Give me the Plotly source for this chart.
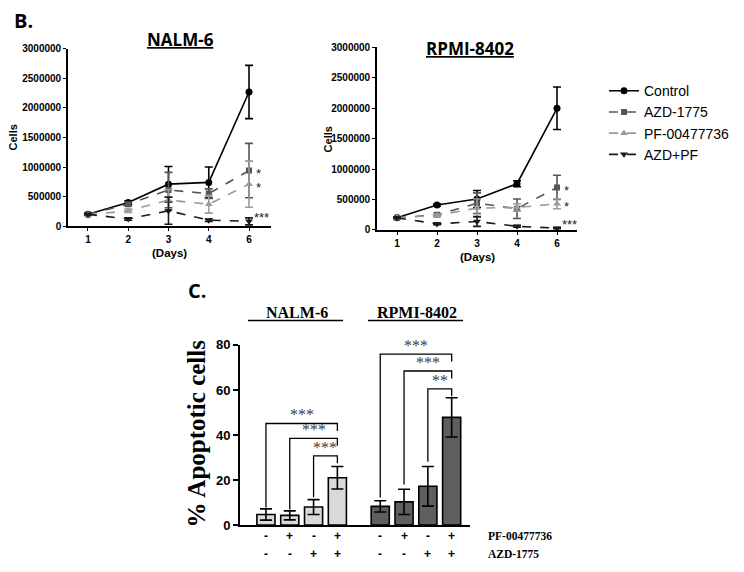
import plotly.graph_objects as go

# ---------------- data ----------------
days = ["1", "2", "3", "4", "6"]
series_names = ["Control", "AZD-1775", "PF-00477736", "AZD+PF"]

nalm_control = [200000, 400000, 710000, 740000, 2270000]
nalm_control_err = [15000, 30000, 300000, 260000, 450000]
nalm_azd = [200000, 370000, 610000, 550000, 940000]
nalm_azd_err = [10000, 30000, 300000, 80000, 460000]
nalm_pf = [190000, 260000, 440000, 370000, 710000]
nalm_pf_err = [10000, 30000, 180000, 150000, 390000]
nalm_combo = [200000, 120000, 260000, 100000, 80000]
nalm_combo_err = [10000, 20000, 230000, 20000, 60000]

rpmi_control = [200000, 410000, 510000, 760000, 2000000]
rpmi_control_err = [10000, 15000, 140000, 50000, 350000]
rpmi_azd = [200000, 250000, 440000, 350000, 700000]
rpmi_azd_err = [10000, 20000, 170000, 160000, 200000]
rpmi_pf = [200000, 240000, 360000, 370000, 430000]
rpmi_pf_err = [10000, 20000, 150000, 60000, 80000]
rpmi_combo = [200000, 100000, 140000, 60000, 30000]
rpmi_combo_err = [10000, 15000, 80000, 15000, 10000]

# significance marks at day 6 (NALM, RPMI)
nalm_sig = ["", "*", "*", "***"]
rpmi_sig = ["", "*", "*", "***"]

# apoptosis bars
apo_nalm = [4.7, 4.3, 8.0, 21.0]
apo_nalm_err = [2.5, 2.0, 3.3, 5.0]
apo_rpmi = [8.3, 10.3, 17.2, 47.8]
apo_rpmi_err = [2.5, 5.6, 8.8, 8.7]
pf_row = ["-", "+", "-", "+"]
azd_row = ["-", "-", "+", "+"]
row_labels = ["PF-00477736", "AZD-1775"]
cell_lines = ["NALM-6", "RPMI-8402"]

# brackets: (left bar index, right bar index, bracket height, left leg bottom, label)
nalm_brackets = [(0, 3, 45.1, 7.8, "***"), (1, 3, 38.5, 6.9, "***"), (2, 3, 30.7, 12.3, "***")]
rpmi_brackets = [(0, 3, 75.9, 12.2, "***"), (1, 3, 68.4, 18.0, "***"), (2, 3, 60.5, 28.1, "**")]

# ---------------- style ----------------
W, H = 744, 572
styles = [
    dict(color="#000000", dash="solid", symbol="circle", msize=7),
    dict(color="#555555", dash="dash", symbol="square", msize=6),
    dict(color="#9a9a9a", dash="dash", symbol="triangle-up", msize=7),
    dict(color="#1a1a1a", dash="dash", symbol="triangle-down", msize=7),
]

def px(x):
    return x / W

def py(y):
    return 1 - y / H

def note(x, y, text, font, xref="paper", yref="paper", **kw):
    d = dict(x=x, y=y, xref=xref, yref=yref, text=text, showarrow=False,
             xanchor="center", yanchor="middle", font=font)
    d.update(kw)
    return d

fig = go.Figure()

panels = [
    ("x", "y", [nalm_control, nalm_azd, nalm_pf, nalm_combo],
     [nalm_control_err, nalm_azd_err, nalm_pf_err, nalm_combo_err], True),
    ("x2", "y2", [rpmi_control, rpmi_azd, rpmi_pf, rpmi_combo],
     [rpmi_control_err, rpmi_azd_err, rpmi_pf_err, rpmi_combo_err], False),
]
for xa, ya, vals, errs, show in panels:
    for name, v, e, st in zip(series_names, vals, errs, styles):
        fig.add_trace(go.Scatter(
            x=days, y=v, name=name, xaxis=xa, yaxis=ya,
            mode="lines+markers", showlegend=show,
            line=dict(color=st["color"], dash=st["dash"], width=1.6),
            marker=dict(symbol=st["symbol"], size=st["msize"], color=st["color"]),
            error_y=dict(type="data", array=e, visible=True, color=st["color"],
                         thickness=1.6, width=4),
        ))

# bar chart
nalm_x = [i for i in range(len(apo_nalm))]
rpmi_x = [4.8 + i for i in range(len(apo_rpmi))]
err_style = dict(type="data", visible=True, color="#000000", thickness=1.6, width=6)
fig.add_trace(go.Bar(x=nalm_x, y=apo_nalm, xaxis="x3", yaxis="y3", width=0.76,
                     marker=dict(color="#d9d9d9", line=dict(color="#000000", width=1.6)),
                     error_y=dict(array=apo_nalm_err, **err_style), showlegend=False))
fig.add_trace(go.Bar(x=rpmi_x, y=apo_rpmi, xaxis="x3", yaxis="y3", width=0.76,
                     marker=dict(color="#5f5f5f", line=dict(color="#000000", width=1.6)),
                     error_y=dict(array=apo_rpmi_err, **err_style), showlegend=False))

shapes = []
annotations = []

serif = "Liberation Serif"
sans = "Liberation Sans"

for xs, brs in ((nalm_x, nalm_brackets), (rpmi_x, rpmi_brackets)):
    for li, ri, hgt, leg, lab in brs:
        x0, x1 = xs[li], xs[ri]
        shapes.append(dict(type="path", xref="x3", yref="y3",
                           path=f"M {x0},{leg} L {x0},{hgt} L {x1},{hgt} L {x1},{hgt - 3.3}",
                           line=dict(color="#000000", width=1.3)))
        annotations.append(note((x0 + x1) / 2, hgt, lab,
                                dict(family=serif, size=16, color="#404040"),
                                xref="x3", yref="y3", yanchor="bottom", yshift=-2))

# +/- rows
for xs in (nalm_x, rpmi_x):
    for xv, p, a in zip(xs, pf_row, azd_row):
        annotations.append(note(xv, py(543), f"<b>{p}</b>", dict(family=sans, size=12, color="#000"),
                                xref="x3"))
        annotations.append(note(xv, py(562), f"<b>{a}</b>", dict(family=sans, size=12, color="#000"),
                                xref="x3"))
for lab, yy in zip(row_labels, (543, 562)):
    annotations.append(note(px(486), py(yy), f"<b>{lab}</b>",
                            dict(family=serif, size=11.5, color="#000"), xanchor="left"))

# cell line group titles for bar panel
for lab, cx, x0, x1 in zip(cell_lines, (297, 417), (248, 368), (343, 463)):
    annotations.append(note(px(cx), py(314), f"<b>{lab}</b>", dict(family=serif, size=16, color="#000")))
    shapes.append(dict(type="line", xref="paper", yref="paper", x0=px(x0), x1=px(x1),
                       y0=py(322), y1=py(322), line=dict(color="#000", width=1.5)))

annotations.append(note(px(197), py(438), "<b>% Apoptotic cells</b>",
                        dict(family=serif, size=25, color="#000"), textangle=-90))

# panel letters
annotations.append(note(px(12), py(14), "<b>B.</b>", dict(family="Open Sans", size=20, color="#000"),
                        xanchor="left"))
annotations.append(note(px(186), py(291), "<b>C.</b>", dict(family="Open Sans", size=20, color="#000"),
                        xanchor="left"))

# line panel titles
annotations.append(note(px(180), py(33), "<b><u>NALM-6</u></b>", dict(family="Open Sans", size=17, color="#000")))
annotations.append(note(px(470), py(43), "<b><u>RPMI-8402</u></b>", dict(family="Open Sans", size=17, color="#000")))

# Cells / Days labels
for cx, cy in ((13, 134), (328, 136)):
    annotations.append(note(px(cx), py(cy), "<b>Cells</b>", dict(family=sans, size=11, color="#000"),
                            textangle=-90))
for cx, cy in ((169, 253), (477, 257)):
    annotations.append(note(px(cx), py(cy), "<b>(Days)</b>", dict(family=sans, size=11.5, color="#000")))

# significance stars at day 6 (category index 4)
for xa, ya, sigs, vals in (("x", "y", nalm_sig, [nalm_control, nalm_azd, nalm_pf, nalm_combo]),
                           ("x2", "y2", rpmi_sig, [rpmi_control, rpmi_azd, rpmi_pf, rpmi_combo])):
    for s, v in zip(sigs, vals):
        if s:
            annotations.append(note(len(days) - 1, v[-1], s, dict(family=sans, size=13, color="#222"),
                                    xref=xa, yref=ya, xanchor="left",
                                    xshift=5 if s == "*" else 3,
                                    yshift=-3 if s == "*" else 4))

line_axis = dict(showline=True, linecolor="#000", linewidth=1.6, ticks="outside", ticklen=3,
                 tickwidth=1.4, tickcolor="#000", showgrid=False, zeroline=False,
                 tickfont=dict(family=sans, size=10, color="#000"),
                 tickprefix="<b>", ticksuffix="</b>")

fig.update_layout(
    width=W, height=H, margin=dict(l=0, r=0, t=0, b=0),
    paper_bgcolor="white", plot_bgcolor="white",
    font=dict(family=sans, color="#000"),
    showlegend=True,
    legend=dict(x=px(604), y=py(70), xanchor="left", yanchor="top",
                font=dict(family=sans, size=14, color="#000"),
                bgcolor="rgba(0,0,0,0)", tracegroupgap=0),
    xaxis=dict(domain=[px(68), px(271)], type="category", range=[-0.496, 4.546],
               anchor="y", **line_axis),
    yaxis=dict(domain=[py(225), py(43)], range=[0, 3000000], dtick=500000, anchor="x",
               tickformat="d", **line_axis),
    xaxis2=dict(domain=[px(377), px(577)], type="category", range=[-0.5, 4.5],
                anchor="y2", **line_axis),
    yaxis2=dict(domain=[py(229), py(41.5)], range=[0, 3000000], dtick=500000, anchor="x2",
                tickformat="d", **line_axis),
    xaxis3=dict(domain=[px(240), px(470)], range=[-1.09, 8.57], anchor="y3",
                showline=True, linecolor="#000", linewidth=2, showticklabels=False,
                ticks="", showgrid=False, zeroline=False),
    yaxis3=dict(domain=[py(532), py(347)], range=[0, 80], dtick=20, anchor="x3",
                showline=True, linecolor="#000", linewidth=2, ticks="outside", ticklen=5,
                tickwidth=2, tickcolor="#000", showgrid=False, zeroline=False,
                tickfont=dict(family=sans, size=13, color="#000"),
                tickprefix="<b>", ticksuffix="</b>"),
    shapes=shapes, annotations=annotations,
)

fig.write_html("out.html", config={"displayModeBar": False},
               post_script="document.body.style.margin='0';document.body.style.overflow='hidden';")
